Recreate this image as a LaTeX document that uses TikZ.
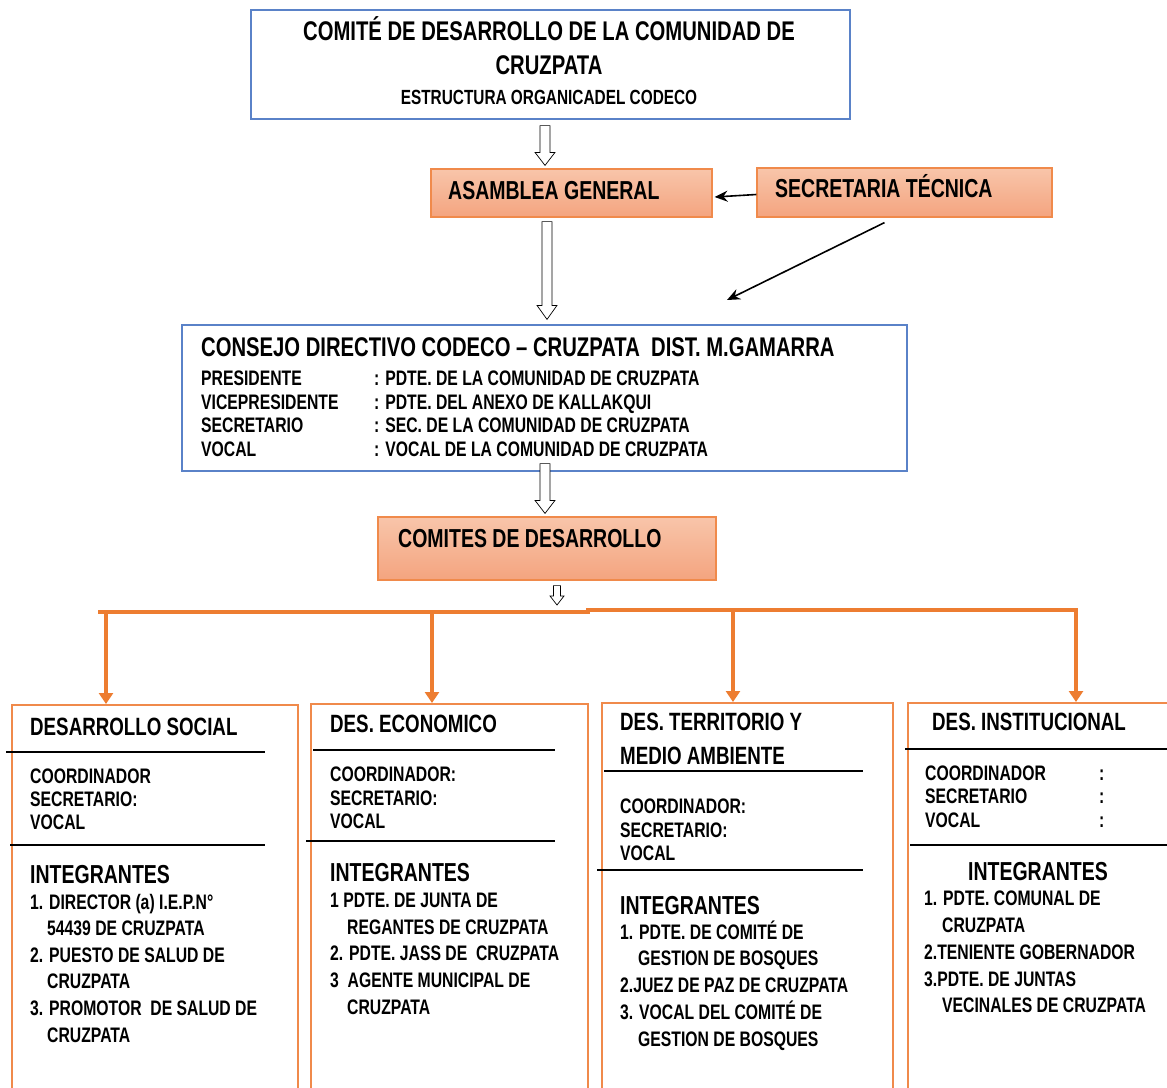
\documentclass[tikz,border=0pt]{standalone}
\usepackage{fontspec}
\setmainfont{Liberation Sans}[FakeStretch=0.75]
\usetikzlibrary{arrows.meta,calc,positioning}

\definecolor{boxblue}{HTML}{5A82C8}
\definecolor{orangeedge}{HTML}{F08A4B}
\definecolor{orangeline}{HTML}{ED7D31}
\definecolor{salmontop}{HTML}{F8C5AA}
\definecolor{salmonbot}{HTML}{F4A47F}

\begin{document}
\begin{tikzpicture}[x=1pt, y=-1pt,
    bluebox/.style={draw=boxblue, line width=1.2pt, inner sep=0pt},
    salmon/.style={draw=orangeedge, line width=1.2pt, top color=salmontop, bottom color=salmonbot, inner sep=0pt},
    area/.style={draw=orangeedge, line width=1.5pt, inner sep=0pt, anchor=north west},
    lbl/.style={inner sep=0pt, anchor=west, text depth=0pt},
    big/.style={lbl, font=\fontsize{27}{30}\selectfont\bfseries, text height=19.3pt},
    head/.style={lbl, font=\fontsize{26}{30}\selectfont\bfseries, text height=18.6pt},
    boxhead/.style={lbl, font=\fontsize{25}{30}\selectfont\bfseries, text height=17.9pt},
    sub/.style={lbl, font=\fontsize{20.5}{22}\selectfont\bfseries, text height=14.7pt},
    row/.style={lbl, font=\fontsize{21}{24}\selectfont\bfseries, text height=15pt},
    rule/.style={line width=1.2pt},
    blk/.style={line width=1.6pt, -{Stealth[length=13pt,width=11pt]}},
    bus/.style={draw=orangeline, line width=3.5pt},
    hollow/.style n args={3}{draw=black, fill=white, line width=0.7pt,
        to path={let \p1=(\tikztostart), \p2=(\tikztotarget) in
            (\x1-#1,\y1) -- (\x1+#1,\y1) -- (\x1+#1,\y2+#3) -- (\x1+#2,\y2+#3)
            -- (\x1,\y2) -- (\x1-#2,\y2+#3) -- (\x1-#1,\y2+#3) -- cycle}}]
    \useasboundingbox (0,0) rectangle (1167,1087);
    \clip (0,0) rectangle (1167,1087);

    % cabecera
    \node[bluebox, minimum width=599, minimum height=109] (title) at (550.5,64.5) {};
    \node[big, anchor=center] (title1) at (549,31) {COMITÉ DE DESARROLLO DE LA COMUNIDAD DE};
    \node[big, anchor=center] (title2) at (549,65) {CRUZPATA};
    \node[sub, anchor=center] (title3) at (549,97) {ESTRUCTURA ORGANICADEL CODECO};

    \node[salmon, minimum width=281, minimum height=48] (asm) at (571.5,193) {};
    \node[head] (asmtxt) at (448,190) {ASAMBLEA GENERAL};
    \node[salmon, minimum width=295, minimum height=49] (sec) at (904.5,192.5) {};
    \node[head] (sectxt) at (775,188) {SECRETARIA TÉCNICA};

    % consejo directivo
    \node[bluebox, minimum width=725, minimum height=146] (cd) at (544.5,398) {};
    \node[big] (cdtxt) at (201,347) {CONSEJO DIRECTIVO CODECO – CRUZPATA\ \ DIST. M.GAMARRA};
    \foreach \r/\d [count=\i] in {PRESIDENTE/PDTE. DE LA COMUNIDAD DE CRUZPATA,
        VICEPRESIDENTE/PDTE. DEL ANEXO DE KALLAKQUI,
        SECRETARIO/SEC. DE LA COMUNIDAD DE CRUZPATA,
        VOCAL/VOCAL DE LA COMUNIDAD DE CRUZPATA}
    {
        \node[row] (cdr\i) at (201,354.3+23.7*\i) {\r};
        \node[row] (cdd\i) at (374,354.3+23.7*\i) {: \d};
    }

    \node[salmon, minimum width=338, minimum height=63] (com) at (547,548.5) {};
    \node[head] (comtxt) at (398,538) {COMITES DE DESARROLLO};

    % flechas huecas
    \draw[hollow={5pt}{10pt}{13pt}] ([shift={(-5.5,6)}]title.south) to ([yshift=3]asm.north);
    \draw[hollow={5pt}{10pt}{14pt}] ([shift={(-24.5,4)}]asm.south) to ([yshift=5]cd.north);
    \draw[hollow={5pt}{10pt}{13pt}] ([shift={(0.5,-8)}]cd.south) to ([yshift=3]com.north);
    \coordinate (hub) at (557,611);
    \draw[hollow={3.5pt}{7pt}{9pt}] ([shift={(10,5)}]com.south) to ([yshift=6]hub);

    % secretaria tecnica
    \draw[blk] ([yshift=-2]sec.west) -- ([xshift=2,yshift=-4]asm.east);
    \coordinate (cdtip) at (727,300);
    \draw[blk] ([shift={(-20,5)}]sec.south) -- (cdtip);

    % comites
    \node[area, minimum width=286, minimum height=420] (soc) at (11,704) {};
    \node[area, minimum width=277, minimum height=420] (eco) at (310,703) {};
    \node[area, minimum width=291, minimum height=420] (ter) at (601,702) {};
    \node[area, minimum width=300, minimum height=420] (ins) at (907,702) {};

    \draw[bus] (98,612) -- (588,612) -- (588,610) -- (1078,610);
    \foreach \b/\x in {soc/106, eco/432, ter/733, ins/1076}
    {
        \draw[bus, -{Triangle[width=14pt,length=11pt]}] (\x,611) -- (\x,0 |- \b.north);
    }

    \node[boxhead] (soct) at (30,727) {DESARROLLO SOCIAL};
    \node[boxhead] (ecot) at (330,724) {DES. ECONOMICO};
    \node[boxhead] (tert1) at (620,722) {DES. TERRITORIO Y};
    \node[boxhead] (tert2) at (620,756) {MEDIO AMBIENTE};
    \node[boxhead] (inst) at (932,722) {DES. INSTITUCIONAL};

    \draw[rule] (6,752) -- (265,752);
    \draw[rule] (10,845) -- (265,845);
    \draw[rule] (313,750) -- (555,750);
    \draw[rule] (306,841) -- (555,841);
    \draw[rule] (604,771) -- (863,771);
    \draw[rule] (597,870) -- (863,870);
    \draw[rule] (905,749) -- (1167,749);
    \draw[rule] (910,845) -- (1167,845);

    % cargos
    \foreach \x/\y/\t [count=\i] in {30/776/COORDINADOR, 30/799/SECRETARIO:, 30/822/VOCAL,
        330/774/COORDINADOR:, 330/798/SECRETARIO:, 330/821/VOCAL,
        620/806/COORDINADOR:, 620/830/SECRETARIO:, 620/853/VOCAL,
        925/773/COORDINADOR, 925/796/SECRETARIO, 925/820/VOCAL}
    {
        \node[row] (cargo\i) at (\x,\y) {\t};
    }
    \foreach \y [count=\i] in {773,796,820}
    {
        \node[row] (insc\i) at (1099,\y) {:};
    }

    % integrantes
    \node[head] (socint) at (30,874) {INTEGRANTES};
    \node[head] (ecoint) at (330,872) {INTEGRANTES};
    \node[head] (terint) at (620,905) {INTEGRANTES};
    \node[head, anchor=center] (insint) at (1038,871) {INTEGRANTES};
    \foreach \x/\y/\t [count=\i] in {30/902/{1. DIRECTOR (a) I.E.P.N°}, 47/928/{54439 DE CRUZPATA},
        30/955/{2. PUESTO DE SALUD DE}, 47/981/{CRUZPATA},
        30/1008/{3. PROMOTOR\ \ DE SALUD DE}, 47/1035/{CRUZPATA},
        330/900/{1 PDTE. DE JUNTA DE}, 347/927/{REGANTES DE CRUZPATA},
        330/953/{2. PDTE. JASS DE\ \ CRUZPATA}, 330/980/{3\ \ AGENTE MUNICIPAL DE},
        347/1007/{CRUZPATA},
        620/932/{1. PDTE. DE COMITÉ DE}, 638/958/{GESTION DE BOSQUES},
        620/985/{2.JUEZ DE PAZ DE CRUZPATA}, 620/1012/{3. VOCAL DEL COMITÉ DE},
        638/1039/{GESTION DE BOSQUES},
        924/898/{1. PDTE. COMUNAL DE}, 942/925/{CRUZPATA},
        924/952/{2.TENIENTE GOBERNADOR}, 924/979/{3.PDTE. DE JUNTAS},
        942/1005/{VECINALES DE CRUZPATA}}
    {
        \node[row] (item\i) at (\x,\y) {\t};
    }

\end{tikzpicture}
\end{document}
